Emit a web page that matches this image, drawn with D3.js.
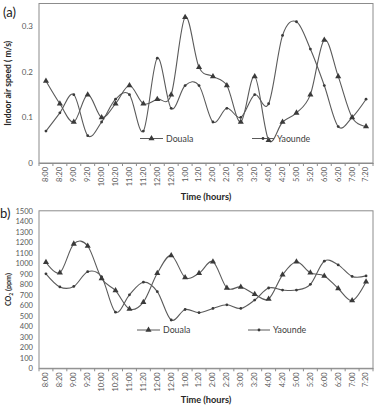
<!DOCTYPE html>
<html><head><meta charset="utf-8">
<script src="https://cdn.jsdelivr.net/npm/d3@7"></script>
<style>html,body{margin:0;padding:0;background:#fff;}svg{display:block;font-family:Lato,"Open Sans",sans-serif;}</style>
</head><body>
<svg id="c" width="375" height="406"></svg>
<script>
const categories = ["8:00","8:20","9:00","9:20","10:00","10:20","11:00","11:20","12:00","12:00","1:00","1:20","2:00","2:20","3:00","3:20","4:00","4:20","5:00","5:20","6:00","6:20","7:00","7:20"];
const speedDouala  = [0.18,0.13,0.09,0.15,0.10,0.13,0.17,0.13,0.14,0.15,0.32,0.21,0.19,0.17,0.09,0.19,0.05,0.09,0.11,0.15,0.27,0.19,0.10,0.08];
const speedYaounde = [0.07,0.11,0.15,0.06,0.09,0.14,0.15,0.07,0.23,0.12,0.17,0.17,0.09,0.12,0.10,0.15,0.13,0.28,0.31,0.25,0.17,0.08,0.10,0.14];
const co2Douala  = [1010,910,1185,1165,855,740,565,630,905,1075,865,905,1015,765,775,705,660,890,1015,910,880,760,645,825];
const co2Yaounde = [900,775,780,920,870,535,700,820,730,460,560,530,570,605,570,650,765,745,745,800,1020,985,875,880];
const speedTicks = [0,0.1,0.2,0.3];
const co2Ticks = d3.range(0,1501,100);
const seriesNames = ["Douala","Yaounde"];

const svg = d3.select("#c");
const idx = d3.range(categories.length);
const x = d3.scaleBand().domain(idx).range([39,373]).padding(0);
const lineCol = "#5a5a5a", mkCol = "#3a3a3a", axCol = "#8c8c8c", txtCol = "#595959";

function panel(opt){
  const y = d3.scaleLinear().domain(opt.domain).range([opt.bottom, opt.top]);
  const g = svg.append("g");
  // plot border
  g.append("rect").attr("x",39).attr("y",opt.top).attr("width",334).attr("height",opt.bottom-opt.top)
    .attr("fill","none").attr("stroke",axCol).attr("stroke-width",1);
  // y ticks
  const ya = g.append("g").attr("transform","translate(39,0)")
    .call(d3.axisLeft(y).tickValues(opt.ticks).tickSize(0).tickPadding(6).tickFormat(opt.fmt));
  ya.select(".domain").remove();
  ya.selectAll("text").attr("fill",txtCol).attr("font-size",opt.yfs).attr("font-family","Lato,sans-serif");
  // x axis
  const xa = g.append("g").attr("transform",`translate(0,${opt.bottom})`)
    .call(d3.axisBottom(x).tickSize(0).tickFormat(i=>categories[i]));
  xa.select(".domain").attr("stroke",axCol);
  xa.selectAll("text").attr("fill",txtCol).attr("font-size",7.5).attr("font-family","Lato,sans-serif")
    .attr("transform","rotate(-90)").attr("text-anchor","end").attr("x",-4).attr("y",0).attr("dy","0.32em");
  // boundary ticks
  g.append("g").selectAll("line").data(d3.range(categories.length+1)).join("line")
    .attr("x1",i=>39+x.step()*i).attr("x2",i=>39+x.step()*i)
    .attr("y1",opt.bottom).attr("y2",opt.bottom+3).attr("stroke",axCol);
  // lines
  const line = d3.line().x((d,i)=>x(i)+x.bandwidth()/2).y(d=>y(d)).curve(d3.curveCardinal.tension(0));
  [opt.s1,opt.s2].forEach((s,k)=>{
    g.append("path").datum(s).attr("d",line).attr("fill","none").attr("stroke",lineCol).attr("stroke-width",1.1);
  });
  const tri = d3.symbol().type(d3.symbolTriangle).size(16);
  g.append("g").selectAll("path").data(opt.s1).join("path")
    .attr("d",tri).attr("transform",(d,i)=>`translate(${x(i)+x.bandwidth()/2},${y(d)})`).attr("fill",mkCol);
  g.append("g").selectAll("circle").data(opt.s2).join("circle")
    .attr("cx",(d,i)=>x(i)+x.bandwidth()/2).attr("cy",d=>y(d)).attr("r",1.4).attr("fill",mkCol);
  // legend
  const L = opt.legend;
  g.append("line").attr("x1",L[0]).attr("x2",L[0]+23).attr("y1",L[2]).attr("y2",L[2]).attr("stroke",lineCol);
  g.append("path").attr("d",tri).attr("transform",`translate(${L[0]+11.5},${L[2]})`).attr("fill",mkCol);
  g.append("text").attr("x",L[0]+26).attr("y",L[2]).attr("dy","0.35em").attr("font-size",8.8).attr("fill","#404040").text(seriesNames[0]);
  g.append("line").attr("x1",L[1]).attr("x2",L[1]+22).attr("y1",L[2]).attr("y2",L[2]).attr("stroke",lineCol);
  g.append("circle").attr("cx",L[1]+11).attr("cy",L[2]).attr("r",1.4).attr("fill",mkCol);
  g.append("text").attr("x",L[1]+25).attr("y",L[2]).attr("dy","0.35em").attr("font-size",8.8).attr("fill","#404040").text(seriesNames[1]);
  // titles
  g.append("text").attr("x",206).attr("y",opt.xtY).attr("text-anchor","middle").attr("font-size",9.2)
    .attr("font-weight","bold").attr("fill","#262626").text("Time (hours)");
  const yt = g.append("text").attr("transform",`translate(${opt.ytX},${(opt.top+opt.bottom)/2}) rotate(-90)`)
    .attr("text-anchor","middle").attr("font-size",opt.ytfs).attr("font-weight","bold").attr("fill","#262626");
  opt.ytitle(yt);
  g.append("text").attr("x",opt.tag[0]).attr("y",opt.tag[1]).attr("font-size",13).attr("fill","#222").text(opt.tag[2]);
}

panel({domain:[0,0.35], top:3.5, bottom:163, ticks:speedTicks, fmt:d=>d===0?"0":d3.format(".1f")(d), yfs:8,
  s1:speedDouala, s2:speedYaounde, legend:[140,252,138.5], xtY:200, ytX:11, ytfs:8.6,
  ytitle:t=>t.text("Indoor air speed ( m/s)"), tag:[3,17,"(a)"]});
panel({domain:[0,1500], top:210.8, bottom:368.3, ticks:co2Ticks, fmt:d=>d, yfs:7.6,
  s1:co2Douala, s2:co2Yaounde, legend:[137,248,330], xtY:403, ytX:11, ytfs:7.2,
  ytitle:t=>{t.append("tspan").text("CO");t.append("tspan").attr("font-size",5).attr("dy",2).text("2");t.append("tspan").attr("dy",-2).text(" (ppm)");},
  tag:[0,218,"b)"]});
</script>
</body></html>
